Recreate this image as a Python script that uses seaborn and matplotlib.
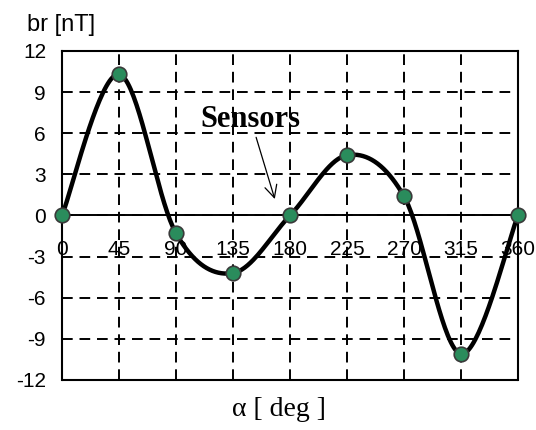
import numpy as np
import pandas as pd
import matplotlib
matplotlib.use("Agg")
import matplotlib.pyplot as plt
import seaborn as sns

# Data
angles = [0, 45, 90, 135, 180, 225, 270, 315, 360]
br_values = [0.0, 10.3, -1.3, -4.2, 0.0, 4.4, 1.4, -10.1, 0.0]
x_ticks = [0, 45, 90, 135, 180, 225, 270, 315, 360]
y_ticks = [-12, -9, -6, -3, 0, 3, 6, 9, 12]

df = pd.DataFrame({"alpha": angles, "br": br_values})


def catmull_rom(x, y, n=40):
    """Smooth rendering of the polyline (like a spreadsheet 'smoothed line')."""
    x = np.asarray(x, float)
    y = np.asarray(y, float)
    px = np.concatenate([[x[0]], x, [x[-1]]])
    py = np.concatenate([[y[0]], y, [y[-1]]])
    xs, ys = [], []
    t = np.linspace(0, 1, n)
    for i in range(1, len(px) - 2):
        p0x, p1x, p2x, p3x = px[i - 1:i + 3]
        p0y, p1y, p2y, p3y = py[i - 1:i + 3]
        c1x = p1x + (p2x - p0x) / 6
        c1y = p1y + (p2y - p0y) / 6
        c2x = p2x - (p3x - p1x) / 6
        c2y = p2y - (p3y - p1y) / 6
        bx = (1 - t) ** 3 * p1x + 3 * (1 - t) ** 2 * t * c1x + 3 * (1 - t) * t ** 2 * c2x + t ** 3 * p2x
        by = (1 - t) ** 3 * p1y + 3 * (1 - t) ** 2 * t * c1y + 3 * (1 - t) * t ** 2 * c2y + t ** 3 * p2y
        xs.append(bx)
        ys.append(by)
    return np.concatenate(xs), np.concatenate(ys)


sns.set_style("white")
plt.rcParams["font.family"] = ["Liberation Sans", "DejaVu Sans"]
plt.rcParams["text.color"] = "black"

fig = plt.figure(figsize=(5.36, 4.30), dpi=100)
ax = fig.add_axes([0.1157, 0.1163, 0.8507, 0.7651])

sx, sy = catmull_rom(df["alpha"], df["br"])
smooth = pd.DataFrame({"alpha": sx, "br": sy})
sns.lineplot(data=smooth, x="alpha", y="br", ax=ax, color="black", lw=3.2,
             sort=False, estimator=None, zorder=4)
sns.scatterplot(data=df, x="alpha", y="br", ax=ax, s=110, color="#2a8c5c",
                edgecolor="#3a3a3a", linewidth=1.2, zorder=5, clip_on=False)

ax.set_xlim(0, 360)
ax.set_ylim(-12, 12)
ax.set_xticks(x_ticks)
ax.set_yticks(y_ticks)
ax.set_xticklabels([str(v) for v in x_ticks])
ax.set_yticklabels([str(v) for v in y_ticks])

ax.grid(True, color="black", linestyle=(0, (5.5, 3.5)), linewidth=1.4)
ax.set_axisbelow(True)

for s in ["left", "right", "top"]:
    ax.spines[s].set_color("black")
    ax.spines[s].set_linewidth(1.5)
ax.spines["bottom"].set_position(("data", 0))
ax.spines["bottom"].set_color("black")
ax.spines["bottom"].set_linewidth(1.4)
ax.axhline(-12, color="black", lw=1.5, clip_on=False, zorder=3)

ax.tick_params(axis="both", direction="inout", length=9, width=1.4,
               colors="black", labelsize=15)
ax.tick_params(axis="x", pad=13)
ax.tick_params(axis="y", pad=7)
for lab in ax.get_xticklabels():
    lab.set_zorder(6)

ax.set_xlabel("")
ax.set_ylabel("")

fig.text(0.050, 0.942, "br [nT]", fontsize=17, ha="left", va="center",
         color="black", family=["Liberation Sans", "DejaVu Sans"])
fig.text(0.52, 0.047, "α [ deg ]", fontsize=20, ha="center", va="center",
         color="black", family=["Liberation Serif", "DejaVu Serif"])

ax.annotate("Sensors", xy=(168, 1.2), xytext=(149, 7.0),
            fontsize=22, fontweight="bold", color="black",
            family=["Liberation Serif", "DejaVu Serif"],
            ha="center", va="center",
            arrowprops=dict(arrowstyle="->", color="black", lw=0.9,
                            shrinkA=0, shrinkB=0, connectionstyle="arc3"),
            zorder=7)

fig.savefig("out.png", dpi=100, facecolor="white")
